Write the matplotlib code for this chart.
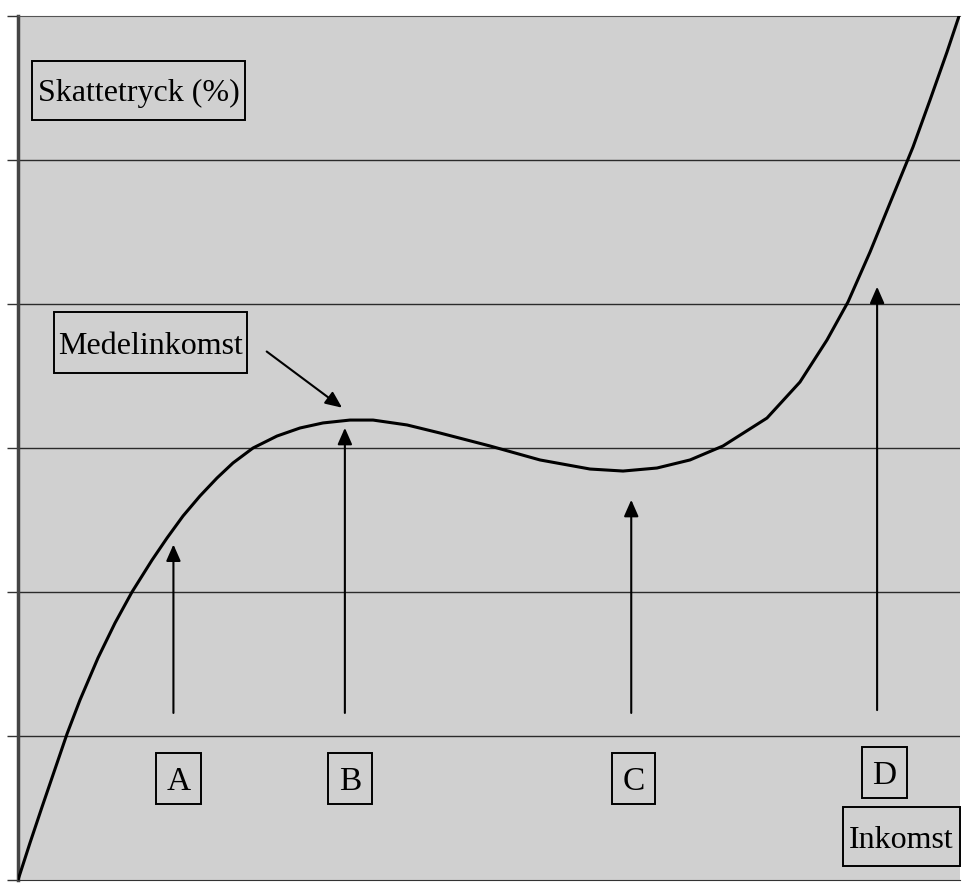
import matplotlib.pyplot as plt
from matplotlib.patches import Rectangle

# curve (income 0-100, tax pressure in grid units 0-6)
inkomst = [0, 1.27, 2.55, 3.93, 5.20, 6.58, 8.49, 10.30, 12.10, 14.23, 15.82, 17.52,
           19.32, 21.13, 22.82, 24.95, 27.49, 29.94, 32.38, 35.24, 37.69, 41.30,
           44.80, 50.11, 55.41, 60.72, 64.23, 67.83, 71.34, 74.84, 79.51, 83.01,
           85.88, 88.11, 90.45, 92.57, 95.01, 96.82, 98.62, 99.9]
skattetryck = [0, 0.257, 0.507, 0.771, 1.014, 1.25, 1.542, 1.785, 2.0, 2.222, 2.375,
               2.528, 2.667, 2.792, 2.896, 3.0, 3.083, 3.139, 3.174, 3.194, 3.194,
               3.16, 3.104, 3.014, 2.917, 2.854, 2.84, 2.861, 2.917, 3.014, 3.208,
               3.458, 3.75, 4.014, 4.361, 4.701, 5.09, 5.417, 5.75, 6.0]

# vertical arrows A-D
pil_namn = ["A", "B", "C", "D"]
pil_x = [16.5, 34.7, 65.1, 91.2]
pil_start = [1.16, 1.16, 1.16, 1.18]
pil_topp = [2.33, 3.14, 2.64, 4.12]

# text boxes: label, (x0, x1, y0, y1)
rutor = [
    ("Skattetryck (%)", (1.49, 24.1, 5.278, 5.688), 23),
    ("Medelinkomst", (3.82, 24.31, 3.521, 3.944), 23),
    ("A", (14.65, 19.43, 0.528, 0.882), 24),
    ("B", (32.90, 37.58, 0.528, 0.882), 24),
    ("C", (63.06, 67.62, 0.528, 0.882), 24),
    ("D", (89.60, 94.37, 0.569, 0.924), 24),
    ("Inkomst", (87.58, 99.99, 0.097, 0.507), 23),
]

fig = plt.figure(figsize=(9.63, 8.83), dpi=100)
ax = fig.add_axes([18/963, 3/883, 942/963, 864/883])
ax.set_facecolor("#d0d0d0")
ax.set_xlim(0, 100)
ax.set_ylim(0, 6)

for y in range(1, 6):
    ax.axhline(y, color="#2a2a2a", lw=1.0, zorder=1)

ax.set_xticks([])
ax.set_yticks(range(0, 7))
ax.set_yticklabels([])
ax.tick_params(axis="y", direction="out", length=8, width=1, color="#333333")
ax.spines["left"].set_linewidth(2.5)
ax.spines["left"].set_color("#444444")
ax.spines["top"].set_color("#555555")
ax.spines["bottom"].set_color("#333333")
ax.spines["right"].set_visible(False)

ax.plot(inkomst, skattetryck, color="black", lw=2.2, zorder=3,
        solid_joinstyle="round")

pil = dict(arrowstyle="-|>,head_length=0.5,head_width=0.22", lw=1.5, color="black",
           mutation_scale=20, shrinkA=0, shrinkB=0)
for i in range(len(pil_namn)):
    ax.annotate("", xy=(pil_x[i], pil_topp[i]), xytext=(pil_x[i], pil_start[i]),
                arrowprops=pil, zorder=4)

ax.annotate("", xy=(34.4, 3.28), xytext=(26.4, 3.67), arrowprops=pil, zorder=4)

for namn, (x0, x1, y0, y1), fs in rutor:
    ax.add_patch(Rectangle((x0, y0), x1 - x0, y1 - y0, fill=False, ec="black",
                           lw=1.4, zorder=5, clip_on=False))
    ax.text((x0 + x1) / 2, (y0 + y1) / 2, namn, fontsize=fs,
            family="Liberation Serif", ha="center", va="center_baseline", zorder=6)

fig.savefig("out.png", dpi=100)
